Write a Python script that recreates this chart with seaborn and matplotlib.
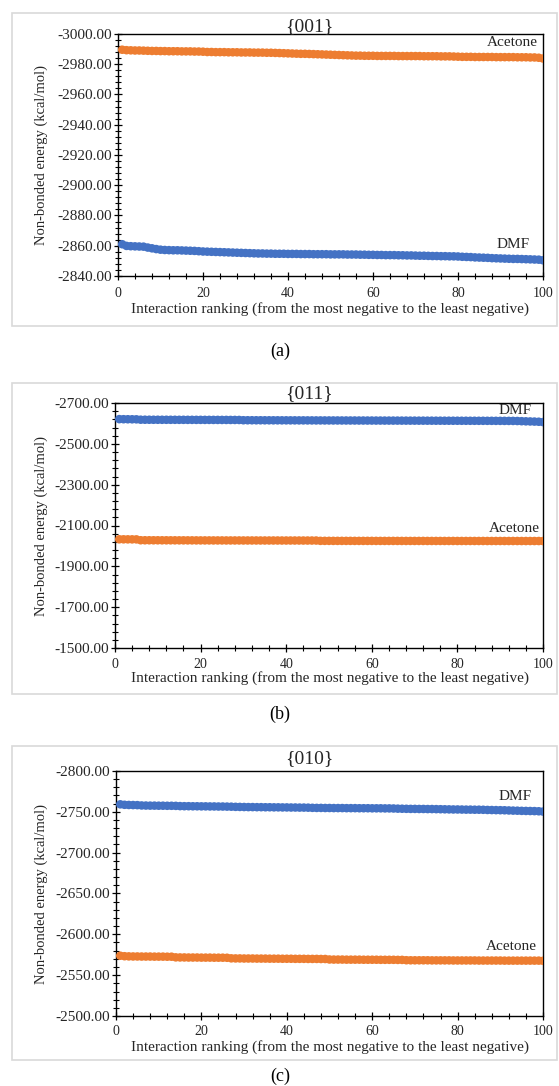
import numpy as np
import pandas as pd
import seaborn as sns
import matplotlib.pyplot as plt
from matplotlib.patches import Rectangle
from matplotlib.ticker import FixedLocator, MultipleLocator, FormatStrFormatter

# interaction ranking 1..100
rank = list(range(1, 101))

# {001}
a_acetone = [-2989.6, -2989.3, -2989.2, -2989.1, -2989.1, -2989.0, -2988.9, -2988.8, -2988.8, -2988.7,
             -2988.7, -2988.6, -2988.6, -2988.6, -2988.5, -2988.5, -2988.5, -2988.4, -2988.4, -2988.3,
             -2988.1, -2988.1, -2988.0, -2988.0, -2988.0, -2987.9, -2987.9, -2987.9, -2987.8, -2987.8,
             -2987.8, -2987.7, -2987.7, -2987.7, -2987.6, -2987.6, -2987.5, -2987.4, -2987.3, -2987.2,
             -2987.1, -2987.0, -2986.9, -2986.9, -2986.8, -2986.7, -2986.6, -2986.5, -2986.4, -2986.3,
             -2986.2, -2986.1, -2986.0, -2985.9, -2985.8, -2985.7, -2985.7, -2985.6, -2985.6, -2985.6,
             -2985.5, -2985.5, -2985.5, -2985.5, -2985.5, -2985.4, -2985.4, -2985.4, -2985.4, -2985.4,
             -2985.4, -2985.3, -2985.3, -2985.3, -2985.3, -2985.2, -2985.2, -2985.2, -2985.1, -2985.0,
             -2984.9, -2984.9, -2984.9, -2984.8, -2984.8, -2984.8, -2984.8, -2984.8, -2984.7, -2984.7,
             -2984.7, -2984.7, -2984.7, -2984.6, -2984.6, -2984.6, -2984.5, -2984.5, -2984.3, -2983.8]
a_dmf = [-2861.0, -2859.9, -2859.7, -2859.6, -2859.5, -2859.4, -2858.8, -2858.3, -2857.8, -2857.4,
         -2857.2, -2857.1, -2857.0, -2857.0, -2856.9, -2856.8, -2856.7, -2856.6, -2856.4, -2856.2,
         -2856.1, -2856.0, -2855.9, -2855.8, -2855.7, -2855.6, -2855.5, -2855.4, -2855.3, -2855.2,
         -2855.1, -2855.0, -2854.9, -2854.9, -2854.8, -2854.8, -2854.7, -2854.7, -2854.7, -2854.6,
         -2854.6, -2854.6, -2854.5, -2854.5, -2854.5, -2854.4, -2854.4, -2854.4, -2854.4, -2854.3,
         -2854.3, -2854.3, -2854.3, -2854.2, -2854.2, -2854.2, -2854.1, -2854.1, -2854.0, -2854.0,
         -2853.9, -2853.9, -2853.8, -2853.8, -2853.8, -2853.7, -2853.7, -2853.6, -2853.6, -2853.5,
         -2853.4, -2853.4, -2853.3, -2853.2, -2853.2, -2853.1, -2853.1, -2853.0, -2853.0, -2852.9,
         -2852.7, -2852.6, -2852.5, -2852.3, -2852.2, -2852.1, -2852.0, -2851.8, -2851.7, -2851.6,
         -2851.5, -2851.4, -2851.3, -2851.3, -2851.2, -2851.1, -2851.0, -2850.9, -2850.8, -2850.4]

# {011}
b_dmf = [-2621.0, -2620.6, -2620.4, -2620.2, -2620.0, -2618.2, -2618.1, -2618.0, -2617.9, -2617.9,
         -2617.8, -2617.8, -2617.7, -2617.7, -2617.6, -2617.6, -2617.5, -2617.5, -2617.4, -2617.4,
         -2617.3, -2617.3, -2617.2, -2617.2, -2617.1, -2617.1, -2617.0, -2617.0, -2616.9, -2615.6,
         -2615.5, -2615.5, -2615.4, -2615.4, -2615.3, -2615.3, -2615.2, -2615.2, -2615.1, -2615.1,
         -2615.0, -2615.0, -2614.9, -2614.9, -2614.8, -2614.8, -2614.7, -2614.7, -2614.6, -2614.6,
         -2614.5, -2614.5, -2614.4, -2614.4, -2614.3, -2614.3, -2614.2, -2614.2, -2614.1, -2614.1,
         -2614.0, -2614.0, -2613.9, -2613.9, -2613.8, -2613.8, -2613.7, -2613.7, -2613.6, -2613.6,
         -2613.5, -2613.5, -2613.4, -2613.4, -2613.3, -2613.3, -2613.2, -2613.2, -2613.1, -2613.1,
         -2613.0, -2613.0, -2612.9, -2612.9, -2612.8, -2612.8, -2612.7, -2612.7, -2612.6, -2612.5,
         -2612.4, -2612.3, -2612.2, -2611.8, -2610.9, -2610.2, -2609.6, -2609.0, -2608.2, -2606.5]
b_acetone = [-2032.5, -2032.3, -2032.2, -2032.1, -2032.0, -2027.8, -2027.7, -2027.7, -2027.6, -2027.6,
             -2027.5, -2027.5, -2027.4, -2027.4, -2027.3, -2027.3, -2027.2, -2027.2, -2027.1, -2027.0,
             -2027.0, -2027.0, -2026.9, -2026.9, -2026.9, -2026.8, -2026.8, -2026.8, -2026.8, -2026.7,
             -2026.7, -2026.7, -2026.7, -2026.6, -2026.6, -2026.6, -2026.6, -2026.6, -2026.5, -2026.5,
             -2026.5, -2026.5, -2026.5, -2026.4, -2026.4, -2026.4, -2026.4, -2024.8, -2024.8, -2024.8,
             -2024.7, -2024.7, -2024.7, -2024.7, -2024.7, -2024.6, -2024.6, -2024.6, -2024.6, -2024.6,
             -2024.5, -2024.5, -2024.5, -2024.5, -2024.5, -2024.5, -2024.4, -2024.4, -2024.4, -2024.4,
             -2024.4, -2024.4, -2024.3, -2024.3, -2024.3, -2024.3, -2024.3, -2024.3, -2024.3, -2024.2,
             -2024.2, -2024.2, -2024.2, -2024.2, -2024.2, -2024.2, -2024.1, -2024.1, -2024.1, -2024.1,
             -2024.1, -2024.1, -2024.1, -2024.1, -2024.0, -2024.0, -2024.0, -2024.0, -2024.0, -2023.8]

# {010}
c_dmf = [-2759.2, -2758.6, -2758.4, -2758.3, -2758.2, -2757.8, -2757.7, -2757.6, -2757.6, -2757.5,
         -2757.5, -2757.4, -2757.4, -2757.3, -2757.0, -2756.9, -2756.9, -2756.8, -2756.8, -2756.7,
         -2756.7, -2756.6, -2756.6, -2756.5, -2756.5, -2756.4, -2756.3, -2756.1, -2756.0, -2755.9,
         -2755.8, -2755.8, -2755.7, -2755.7, -2755.6, -2755.6, -2755.5, -2755.5, -2755.4, -2755.4,
         -2755.3, -2755.3, -2755.2, -2755.2, -2755.1, -2754.9, -2754.8, -2754.8, -2754.7, -2754.7,
         -2754.6, -2754.6, -2754.6, -2754.5, -2754.5, -2754.5, -2754.4, -2754.4, -2754.4, -2754.3,
         -2754.3, -2754.3, -2754.2, -2754.2, -2754.1, -2753.9, -2753.8, -2753.7, -2753.6, -2753.6,
         -2753.5, -2753.5, -2753.4, -2753.4, -2753.3, -2753.2, -2753.1, -2753.0, -2752.9, -2752.9,
         -2752.8, -2752.7, -2752.7, -2752.6, -2752.6, -2752.5, -2752.3, -2752.2, -2752.1, -2752.0,
         -2751.9, -2751.7, -2751.5, -2751.4, -2751.2, -2751.1, -2751.0, -2750.9, -2750.7, -2750.3]
c_acetone = [-2573.8, -2573.2, -2573.0, -2572.9, -2572.9, -2572.8, -2572.8, -2572.8, -2572.7, -2572.7,
             -2572.7, -2572.6, -2572.6, -2571.8, -2571.7, -2571.7, -2571.6, -2571.6, -2571.6, -2571.5,
             -2571.5, -2571.5, -2571.4, -2571.4, -2571.4, -2571.3, -2570.6, -2570.5, -2570.5, -2570.4,
             -2570.4, -2570.4, -2570.3, -2570.3, -2570.3, -2570.2, -2570.2, -2570.2, -2570.1, -2570.1,
             -2570.1, -2570.0, -2570.0, -2570.0, -2569.9, -2569.9, -2569.9, -2569.8, -2569.8, -2569.2,
             -2569.1, -2569.1, -2569.1, -2569.0, -2569.0, -2569.0, -2569.0, -2568.9, -2568.9, -2568.9,
             -2568.9, -2568.8, -2568.8, -2568.8, -2568.8, -2568.7, -2568.7, -2568.3, -2568.2, -2568.2,
             -2568.2, -2568.2, -2568.2, -2568.1, -2568.1, -2568.1, -2568.1, -2568.1, -2568.0, -2568.0,
             -2568.0, -2568.0, -2568.0, -2568.0, -2567.9, -2567.9, -2567.9, -2567.9, -2567.9, -2567.9,
             -2567.8, -2567.8, -2567.8, -2567.8, -2567.8, -2567.8, -2567.8, -2567.8, -2567.8, -2567.6]

titles = ["{001}", "{011}", "{010}"]
captions = ["(a)", "(b)", "(c)"]
ylims = [(-2840, -3000), (-1500, -2700), (-2500, -2800)]
yticks = [[-3000, -2980, -2960, -2940, -2920, -2900, -2880, -2860, -2840],
          [-2700, -2500, -2300, -2100, -1900, -1700, -1500],
          [-2800, -2750, -2700, -2650, -2600, -2550, -2500]]
xticks = [0, 20, 40, 60, 80, 100]
xlabel = "Interaction ranking (from the most negative to the least negative)"
ylabel = "Non-bonded energy (kcal/mol)"

blue = "#4472C4"
orange = "#ED7D31"

sns.set_style("white")
plt.rcParams['font.family'] = ['Liberation Serif', 'DejaVu Serif']

W, H = 559, 1086
fig = plt.figure(figsize=(W / 100, H / 100), dpi=100)

def fx(px):
    return px / W

def fy(py):
    return 1 - py / H

# pixel layout of each panel: axes (left, top, right, bottom), outer box (top, bottom)
axes_px = [(118, 34, 543, 276), (115, 403, 543, 648), (116, 771, 543, 1016)]
box_px = [(13, 326), (383, 694), (746, 1060)]
title_y = [27, 394, 759]
caption_y = [351, 714, 1076]
tick_pad = [5.0, 4.0, 3.5]
xlabel_y = [309, 678, 1047]
dmf_lab = [(530, 245), (532, 410), (532, 796)]
ace_lab = [(538, 43), (540, 528), (537, 946)]

panels = [(a_dmf, a_acetone), (b_dmf, b_acetone), (c_dmf, c_acetone)]

for i in range(3):
    l, t, r, b = axes_px[i]
    bt, bb = box_px[i]
    fig.patches.append(Rectangle((fx(12), fy(bb)), fx(557 - 12), (bb - bt) / H,
                                 transform=fig.transFigure, fill=False,
                                 edgecolor="#d9d9d9", linewidth=1.2, zorder=0))
    ax = fig.add_axes([fx(l), fy(b), fx(r - l), (b - t) / H])
    dmf, ace = panels[i]
    df = pd.DataFrame({"rank": rank * 2,
                       "energy": dmf + ace,
                       "solvent": ["DMF"] * 100 + ["Acetone"] * 100})
    sns.scatterplot(data=df, x="rank", y="energy", hue="solvent",
                    palette={"DMF": blue, "Acetone": orange},
                    s=38, edgecolor=None, linewidth=0, legend=False, ax=ax, zorder=3)
    ax.set_xlim(0, 100)
    ax.set_ylim(*ylims[i])
    yt = yticks[i]
    step = abs(yt[1] - yt[0]) / 5
    ax.xaxis.set_major_locator(FixedLocator(xticks))
    ax.xaxis.set_minor_locator(MultipleLocator(4))
    ax.yaxis.set_major_locator(FixedLocator(yt))
    ax.yaxis.set_minor_locator(FixedLocator(np.arange(min(yt), max(yt) + 1, step)))
    ax.yaxis.set_major_formatter(FormatStrFormatter('%.2f'))
    ax.tick_params(which='major', direction='inout', length=6, width=0.9,
                   colors='black', labelcolor='#262626')
    ax.tick_params(which='minor', direction='inout', length=4, width=0.8, colors='black')
    ax.tick_params(axis='x', which='major', pad=tick_pad[i], labelsize=10)
    ax.tick_params(axis='y', which='major', pad=1.5, labelsize=11)
    ax.tick_params(left=True, bottom=True, which='both')
    for sp in ax.spines.values():
        sp.set_color('black')
        sp.set_linewidth(1.0)
    ax.set_xlabel("")
    ax.set_ylabel("")
    fig.text(fx(330), fy(xlabel_y[i]), xlabel, ha='center', va='center',
             fontsize=11, color='#262626')
    fig.text(fx(41), fy((t + b) / 2), ylabel, ha='center', va='center',
             rotation=90, fontsize=10.5, color='#262626')
    fig.text(fx(309), fy(title_y[i]), titles[i], ha='center', va='center',
             fontsize=14, color='#262626')
    fig.text(fx(280), fy(caption_y[i]), captions[i], ha='center', va='center',
             fontsize=13, color='black')
    fig.text(fx(dmf_lab[i][0]), fy(dmf_lab[i][1]), "DMF", ha='right', va='center',
             fontsize=11, color='#262626')
    fig.text(fx(ace_lab[i][0]), fy(ace_lab[i][1]), "Acetone", ha='right', va='center',
             fontsize=11, color='#262626')

fig.savefig("out.png", dpi=100)
